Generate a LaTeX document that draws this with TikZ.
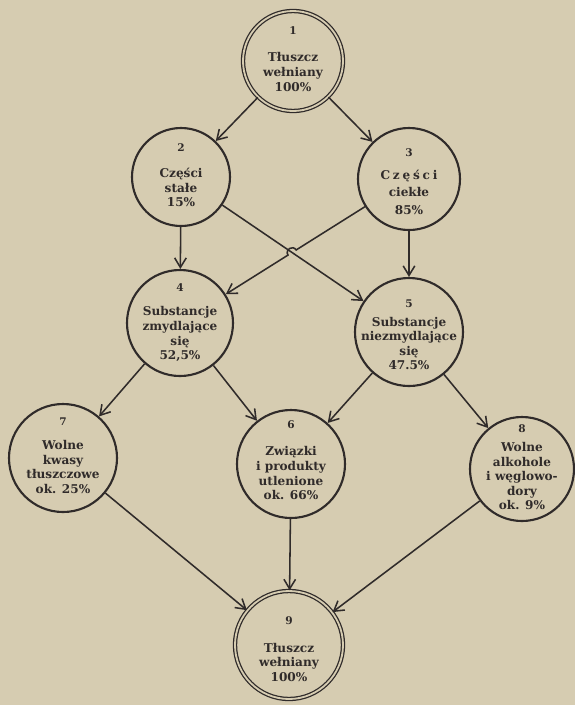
\documentclass[tikz,border=0pt]{standalone}
\usepackage{fontspec}
\setmainfont{DejaVu Serif}
\usepackage{tikz}
\usetikzlibrary{positioning,arrows.meta,calc}
\definecolor{paper}{RGB}{214,204,177}
\definecolor{ink}{RGB}{48,43,42}
\newcommand\nr[1]{{\fontsize{7.5}{8}\selectfont #1}}

\begin{document}
\begin{tikzpicture}[x=0.25mm,y=-0.25mm,
  stage/.style={circle,draw=ink,line width=1.5pt,inner sep=0pt,minimum size=#1},
  wool/.style={circle,draw=ink,line width=0.9pt,double=paper,double distance=1.3pt,inner sep=0pt,minimum size=#1},
  txt/.style={align=center,text=ink,font=\bfseries\fontsize{8.6}{10.4}\selectfont},
  flow/.style={draw=ink,line width=1.1pt,-{Straight Barb[length=2.4mm,width=2.9mm]}}]
\fill[paper] (0,0) rectangle (575,705);
\useasboundingbox (0,0) rectangle (575,705);
% circles
\node[wool=25mm] (s1) at (293,61) {};
\node[stage=24.5mm] (s2) at (181,177) {};
\node[stage=25.5mm] (s3) at (409,179) {};
\node[stage=26.5mm] (s4) at (180,323) {};
\node[stage=27mm] (s5) at (409,332) {};
\node[stage=27mm] (s7) at (63,458) {};
\node[stage=27mm] (s6) at (291,464) {};
\node[stage=26mm] (s8) at (522,469) {};
\node[wool=27mm] (s9) at (289,645) {};
% texts
\node[txt,yshift=0.5mm] (t1) at (s1) {\nr{1}\\[9pt]Tłuszcz\\wełniany\\100\%};
\node[txt,yshift=0.4mm] (t2) at (s2) {\nr{2}\\[8pt]Części\\stałe\\15\%};
\node[txt,yshift=-0.6mm] (t3) at (s3) {\nr{3}\\[6pt]C\kern2pt z\kern2pt ę\kern2pt ś\kern2pt c\kern2pt i\\[2pt]ciekłe\\[2pt]85\%};
\node[txt,yshift=0.1mm] (t4) at (s4) {\nr{4}\\[7pt]Substancje\\zmydlające\\się\\52,5\%};
\node[txt,yshift=-0.7mm] (t5) at (s5) {\nr{5}\\[3pt]Substancje\\niezmydlające\\się\\47.5\%};
\node[txt,yshift=0.6mm] (t7) at (s7) {\nr{7}\\[7pt]Wolne\\kwasy\\tłuszczowe\\ok. 25\%};
\node[txt,yshift=0.9mm] (t6) at (s6) {\nr{6}\\[9pt]Związki\\i produkty\\utlenione\\ok. 66\%};
\node[txt,yshift=0.4mm] (t8) at (s8) {\nr{8}\\[3pt]Wolne\\alkohole\\i węglowo-\\dory\\ok. 9\%};
\node[txt,yshift=-1.1mm] (t9) at (s9) {\nr{9}\\[9pt]Tłuszcz\\wełniany\\100\%};
% arrows
\draw[flow] (s1) -- (s2);
\draw[flow] (s1) -- (s3);
\draw[flow] (s2) -- (s4);
\draw[flow] (s3) -- (s5);
\draw[flow] (s2) -- (s5);
\coordinate (hop) at (intersection of s2--s5 and s3--s4);
\draw[flow] (s3) -- ($(hop)!1.2mm!(s3)$) to[out=123,in=123,looseness=1.7] ($(hop)!1.2mm!(s4)$) -- (s4);
\draw[flow] (s4) -- (s7);
\draw[flow] (s4) -- (s6);
\draw[flow] (s5) -- (s6);
\draw[flow] (s5) -- (s8);
\draw[flow] (s7) -- (s9);
\draw[flow] (s6) -- (s9);
\draw[flow] (s8) -- (s9);
\end{tikzpicture}
\end{document}
